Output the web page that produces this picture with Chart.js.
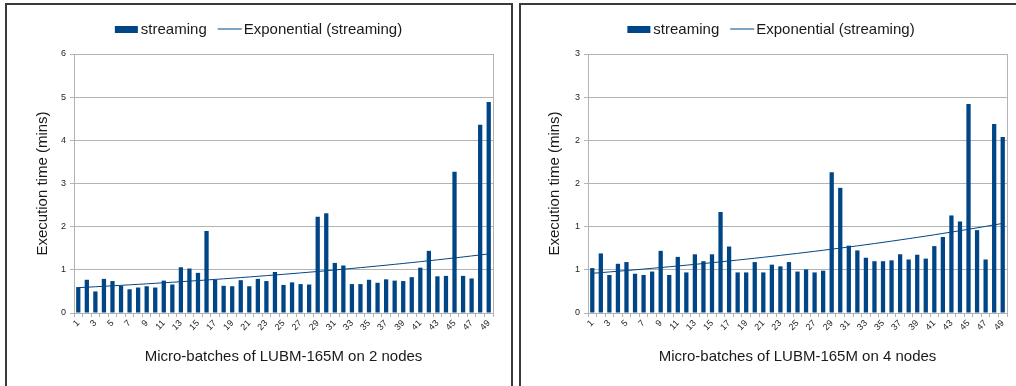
<!DOCTYPE html>
<html>
<head>
<meta charset="utf-8">
<script src="https://cdn.jsdelivr.net/npm/chart.js@4.4.1/dist/chart.umd.min.js"></script>
<style>
  html, body { margin: 0; padding: 0; background: #fff; width: 1016px; height: 386px; overflow: hidden; position: relative; }
  .panel { position: absolute; top: 3px; height: 430px; border: 2px solid #3a3a3a; box-sizing: border-box; }
  canvas { position: absolute; }
</style>
</head>
<body>
<div class="panel" style="left:5px; width:508px;"></div>
<div class="panel" style="left:519px; width:530px;"></div>
<canvas id="twoNodes" width="503" height="381" style="left:7px; top:5px;"></canvas>
<canvas id="fourNodes" width="495" height="381" style="left:521px; top:5px;"></canvas>

<script>
// Micro-batch numbers 1..49
const batches = Array.from({ length: 49 }, (_, i) => String(i + 1));

// Only odd batch numbers are printed under the axis
const batchTickLabels = batches.map((b, i) => (i % 2 === 0 ? b : ''));

// Execution time per micro-batch (minutes), LUBM-165M on 2 nodes
const streamingTwoNodes = [
  0.60, 0.77, 0.50, 0.79, 0.74, 0.63, 0.55, 0.59, 0.62, 0.59,
  0.75, 0.66, 1.06, 1.03, 0.93, 1.90, 0.77, 0.63, 0.62, 0.76,
  0.62, 0.79, 0.74, 0.95, 0.65, 0.71, 0.67, 0.66, 2.23, 2.31,
  1.16, 1.10, 0.67, 0.67, 0.77, 0.70, 0.78, 0.75, 0.74, 0.83,
  1.05, 1.44, 0.85, 0.86, 3.27, 0.86, 0.80, 4.36, 4.89
];

// Execution time per micro-batch (minutes), LUBM-165M on 4 nodes
const streamingFourNodes = [
  0.52, 0.69, 0.44, 0.57, 0.59, 0.455, 0.44, 0.48, 0.72, 0.44,
  0.65, 0.47, 0.68, 0.60, 0.68, 1.17, 0.77, 0.47, 0.47, 0.59,
  0.47, 0.56, 0.54, 0.59, 0.48, 0.505, 0.47, 0.49, 1.63, 1.45,
  0.78, 0.725, 0.64, 0.60, 0.60, 0.61, 0.68, 0.62, 0.675, 0.63,
  0.775, 0.88, 1.13, 1.06, 2.42, 0.96, 0.62, 2.19, 2.04
];

// Y tick labels (values shown with no decimals)
const yTicksTwoNodes = ['0', '1', '2', '3', '4', '5', '6'];
const yTicksFourNodes = ['0', '1', '1', '2', '2', '3', '3'];

const BAR_BLUE = '#004586';
const GRID_GREY = '#b3b3b3';
const FONT = '"Liberation Sans", Arial, Helvetica, sans-serif';

Chart.defaults.font.family = FONT;

// Least-squares fit of y = a * e^(b*x) on ln(y), evaluated at each batch
function exponentialTrend(values) {
  const n = values.length;
  let sx = 0, sy = 0, sxx = 0, sxy = 0;
  values.forEach((v, i) => {
    const x = i + 1, y = Math.log(v);
    sx += x; sy += y; sxx += x * x; sxy += x * y;
  });
  const b = (n * sxy - sx * sy) / (n * sxx - sx * sx);
  const a = Math.exp((sy - b * sx) / n);
  return values.map((_, i) => a * Math.exp(b * (i + 1)));
}

// Horizontal legend: filled bar swatch, then a short line swatch for the trend
const inlineLegend = {
  id: 'inlineLegend',
  afterDraw(chart, args, opts) {
    const ctx = chart.ctx;
    ctx.save();
    ctx.font = '15px ' + FONT;
    ctx.textBaseline = 'middle';
    ctx.textAlign = 'left';
    const items = chart.data.datasets.map(d => ({
      label: d.label,
      isLine: d.type === 'line',
      color: d.type === 'line' ? d.borderColor : d.backgroundColor,
      width: ctx.measureText(d.label).width
    }));
    const swatchW = 23, lineW = 24, gapBar = 3, gapLine = 2, itemGap = 11;
    let total = 0;
    items.forEach((it, i) => {
      total += (it.isLine ? lineW + gapLine : swatchW + gapBar) + it.width;
      if (i < items.length - 1) total += itemGap;
    });
    let x = opts.centerX - total / 2;
    const y = opts.centerY;
    items.forEach(it => {
      if (it.isLine) {
        ctx.strokeStyle = it.color;
        ctx.lineWidth = 1;
        ctx.beginPath();
        ctx.moveTo(x, y - 0.5);
        ctx.lineTo(x + lineW, y - 0.5);
        ctx.stroke();
        x += lineW + gapLine;
      } else {
        ctx.fillStyle = it.color;
        ctx.fillRect(x, y - 3.5, swatchW, 7);
        x += swatchW + gapBar;
      }
      ctx.fillStyle = '#1a1a1a';
      ctx.fillText(it.label, x, y);
      x += it.width + itemGap;
    });
    ctx.restore();
  }
};

function buildChart(canvasId, values, yMax, yStep, yLabels, xTitle, frame) {
  return new Chart(document.getElementById(canvasId), {
    type: 'bar',
    data: {
      labels: batches,
      datasets: [
        {
          label: 'streaming',
          data: values,
          backgroundColor: BAR_BLUE,
          borderWidth: 0,
          barPercentage: 0.5,
          categoryPercentage: 1.0,
          order: 2
        },
        {
          type: 'line',
          label: 'Exponential (streaming)',
          data: exponentialTrend(values),
          borderColor: BAR_BLUE,
          borderWidth: 1,
          pointRadius: 0,
          fill: false,
          tension: 0,
          order: 1
        }
      ]
    },
    options: {
      responsive: false,
      animation: false,
      events: [],
      layout: { padding: { top: frame.top, right: frame.right, left: 0, bottom: 0 } },
      plugins: {
        legend: { display: false },
        tooltip: { enabled: false },
        inlineLegend: { centerX: frame.legendX, centerY: frame.legendY }
      },
      scales: {
        x: {
          offset: true,
          ticks: {
            autoSkip: false,
            maxRotation: 45,
            minRotation: 45,
            padding: 1,
            color: '#222',
            font: { size: 9 },
            callback: (v, i) => batchTickLabels[i]
          },
          grid: {
            offset: true,
            drawOnChartArea: true,
            // only the closing line on the right edge of the plot is visible
            color: c => (c.type === 'scale' ? GRID_GREY : 'rgba(0,0,0,0)'),
            tickColor: GRID_GREY,
            tickLength: 4,
            lineWidth: 1
          },
          border: { color: GRID_GREY },
          title: {
            display: true,
            text: xTitle,
            color: '#1a1a1a',
            font: { size: 15 },
            padding: { top: 0, bottom: 20 }
          },
          afterFit: s => { s.height = frame.xHeight; }
        },
        y: {
          min: 0,
          max: yMax,
          ticks: {
            stepSize: yStep,
            autoSkip: false,
            color: '#222',
            font: { size: 9 },
            padding: 4,
            callback: (v, i) => yLabels[i]
          },
          grid: { color: GRID_GREY, tickColor: GRID_GREY, tickLength: 4, lineWidth: 1 },
          border: { color: GRID_GREY },
          title: {
            display: true,
            text: 'Execution time (mins)',
            color: '#1a1a1a',
            font: { size: 15 },
            padding: { top: frame.yTitlePad, bottom: 0 }
          },
          afterFit: s => { s.width = frame.yWidth; }
        }
      }
    },
    plugins: [inlineLegend]
  });
}

buildChart('twoNodes', streamingTwoNodes, 6, 1, yTicksTwoNodes,
  'Micro-batches of LUBM-165M on 2 nodes',
  { top: 49, right: 17, xHeight: 73, yWidth: 67, yTitlePad: 27, legendX: 251.5, legendY: 24.5 });

buildChart('fourNodes', streamingFourNodes, 3, 0.5, yTicksFourNodes,
  'Micro-batches of LUBM-165M on 4 nodes',
  { top: 49, right: 9, xHeight: 73, yWidth: 67, yTitlePad: 25, legendX: 250, legendY: 24.5 });
</script>
</body>
</html>
